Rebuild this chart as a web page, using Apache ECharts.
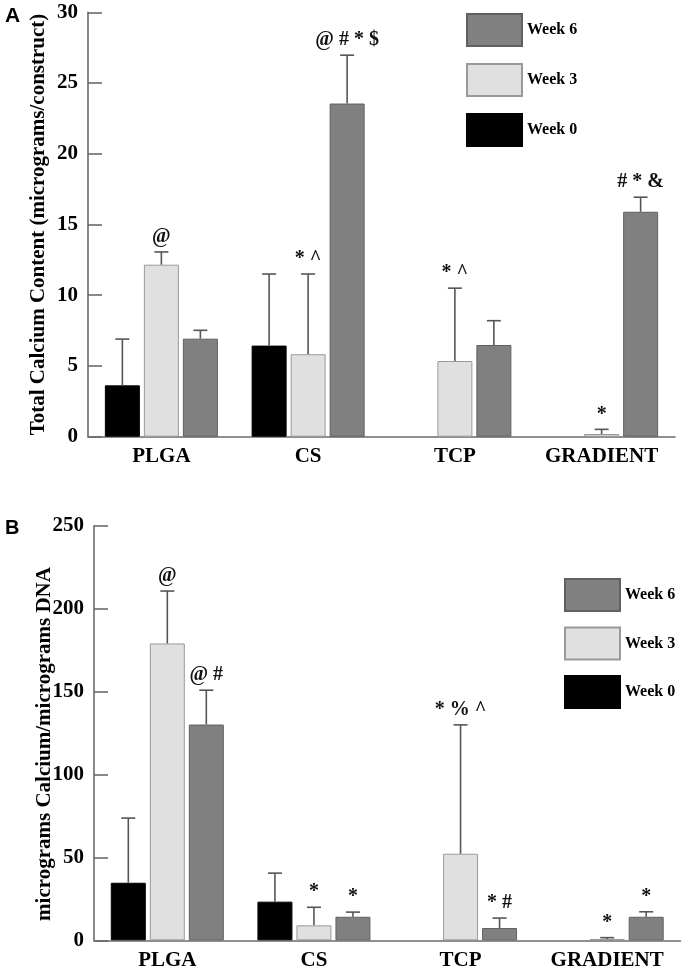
<!DOCTYPE html>
<html>
<head>
<meta charset="utf-8">
<script src="https://cdn.jsdelivr.net/npm/echarts@6/dist/echarts.min.js"></script>
<style>
  html, body { margin: 0; padding: 0; background: #fff; }
  #chart { width: 686px; height: 974px; }
</style>
</head>
<body>
<div id="chart"></div>
<script>
// ---------- DATA ----------
const categories = ['PLGA', 'CS', 'TCP', 'GRADIENT'];
const weekNames = ['Week 0', 'Week 3', 'Week 6'];
const legendOrder = ['Week 6', 'Week 3', 'Week 0'];

// Panel A: Total Calcium Content (micrograms/construct)
const aTicks = [0, 5, 10, 15, 20, 25, 30];
const aWeek0 = [3.63, 6.44, null, null];
const aWeek3 = [12.16, 5.83, 5.35, 0.19];
const aWeek6 = [6.93, 23.55, 6.48, 15.9];
const aWeek0Sd = [3.27, 5.06, null, null];
const aWeek3Sd = [0.9, 5.67, 5.15, 0.33];
const aWeek6Sd = [0.59, 3.42, 1.72, 1.03];
const aWeek0Marks = ['', '', '', ''];
const aWeek3Marks = ['@', '* ^', '* ^', '*'];
const aWeek6Marks = ['', '@ # * $', '', '# * &'];

// Panel B: micrograms Calcium/micrograms DNA
const bTicks = [0, 50, 100, 150, 200, 250];
const bWeek0 = [34.7, 23.3, null, null];
const bWeek3 = [179, 9.0, 52.2, 0.8];
const bWeek6 = [130.1, 14.2, 7.4, 14.2];
const bWeek0Sd = [39.0, 17.2, null, null];
const bWeek3Sd = [31.6, 10.9, 77.7, 0.8];
const bWeek6Sd = [20.7, 2.8, 6.0, 3.0];
const bWeek0Marks = ['', '', '', ''];
const bWeek3Marks = ['@', '*', '* % ^', '*'];
const bWeek6Marks = ['@ #', '*', '* #', '*'];

// ---------- STYLE ----------
const SERIF = "'Liberation Serif', 'Times New Roman', serif";
const SANS = "'Liberation Sans', Arial, sans-serif";
const BAR_W = 35;
const BAR_GAP = 4;
const AXIS_COLOR = '#6a6a6a';
const ERR_COLOR = '#555555';
const weekStyles = [
  { color: '#000000', borderColor: '#000000', borderWidth: 1 },
  { color: '#e0e0e0', borderColor: '#9a9a9a', borderWidth: 1 },
  { color: '#808080', borderColor: '#606060', borderWidth: 1 }
];

const chart = echarts.init(document.getElementById('chart'), null, { renderer: 'canvas' });

function makeBars(values, gridIdx) {
  return values.map((vals, w) => ({
    name: weekNames[w],
    type: 'bar',
    xAxisIndex: gridIdx,
    yAxisIndex: gridIdx,
    data: vals,
    barWidth: BAR_W,
    barGap: (BAR_GAP / BAR_W * 100).toFixed(2) + '%',
    itemStyle: weekStyles[w],
    emphasis: { disabled: true },
    z: 2
  }));
}

function makeErrors(values, sds, marks, gridIdx) {
  const items = [];
  const labels = [];
  values.forEach((vals, w) => {
    vals.forEach((v, c) => {
      if (v === null || v === undefined) return;
      items.push([c, w, v, sds[w][c]]);
      labels.push(marks[w][c]);
    });
  });
  return {
    type: 'custom',
    xAxisIndex: gridIdx,
    yAxisIndex: gridIdx,
    z: 5,
    silent: true,
    encode: { x: 0, y: 2 },
    data: items,
    renderItem: function (params, api) {
      const c = api.value(0), w = api.value(1), v = api.value(2), sd = api.value(3);
      const base = api.coord([c, v]);
      const top = api.coord([c, v + sd]);
      const x = base[0] + (w - 1) * (BAR_W + BAR_GAP);
      const lineStyle = { stroke: ERR_COLOR, lineWidth: 1.6 };
      const children = [
        { type: 'line', shape: { x1: x, y1: base[1], x2: x, y2: top[1] }, style: lineStyle },
        { type: 'line', shape: { x1: x - 7, y1: top[1], x2: x + 7, y2: top[1] }, style: lineStyle }
      ];
      const txt = labels[params.dataIndex];
      if (txt) {
        children.push({
          type: 'text',
          x: x, y: top[1] - 5,
          style: {
            text: txt, fill: '#111', font: 'bold 20px ' + SERIF,
            textAlign: 'center', textVerticalAlign: 'bottom'
          }
        });
      }
      return { type: 'group', children: children };
    }
  };
}

const commonX = {
  type: 'category',
  data: categories,
  axisLine: { lineStyle: { color: AXIS_COLOR, width: 1.6 } },
  axisTick: { show: false },
  axisLabel: { color: '#000', fontFamily: SERIF, fontWeight: 'bold', fontSize: 21, interval: 0 },
  splitLine: { show: false }
};

function makeY(ticks, name, gridIdx, namePad) {
  return {
    type: 'value',
    gridIndex: gridIdx,
    min: ticks[0],
    max: ticks[ticks.length - 1],
    interval: ticks[1] - ticks[0],
    name: name,
    nameLocation: 'middle',
    nameGap: 39,
    nameMoveOverlap: false,
    nameTextStyle: { color: '#000', fontFamily: SERIF, fontWeight: 'bold', fontSize: 21, padding: namePad },
    axisLine: { show: true, lineStyle: { color: AXIS_COLOR, width: 1.6 } },
    axisTick: { show: true, inside: true, length: 14, lineStyle: { color: AXIS_COLOR, width: 1.6 } },
    axisLabel: { color: '#000', fontFamily: SERIF, fontWeight: 'bold', fontSize: 21, margin: 10 },
    splitLine: { show: false }
  };
}

function makeLegend(left, top, gap) {
  return {
    data: legendOrder,
    orient: 'vertical',
    left: left, top: top,
    icon: 'rect',
    itemWidth: 55, itemHeight: 32, itemGap: gap,
    selectedMode: false,
    textStyle: { color: '#000', fontFamily: SERIF, fontWeight: 'bold', fontSize: 16 }
  };
}

const option = {
  animation: false,
  backgroundColor: '#ffffff',
  grid: [
    { left: 88, right: 11, top: 12.3, height: 424.4 },
    { left: 94, right: 5.5, top: 525.7, height: 414.6 }
  ],
  xAxis: [
    Object.assign({}, commonX, { gridIndex: 0, axisLabel: Object.assign({}, commonX.axisLabel, { margin: 9 }) }),
    Object.assign({}, commonX, { gridIndex: 1, axisLabel: Object.assign({}, commonX.axisLabel, { margin: 10 }) })
  ],
  yAxis: [
    makeY(aTicks, 'Total Calcium Content (micrograms/construct)', 0, [0, 0, 0, 0]),
    makeY(bTicks, 'micrograms Calcium/micrograms DNA', 1, [0, 22, 0, 0])
  ],
  legend: [makeLegend(461, 8, 16), makeLegend(559, 573, 14.5)],
  graphic: [
    { type: 'text', left: 5, top: 6, style: { text: 'A', font: 'bold 21px ' + SANS, fill: '#000' } },
    { type: 'text', left: 5, top: 518, style: { text: 'B', font: 'bold 20px ' + SANS, fill: '#000' } }
  ],
  series: [].concat(
    makeBars([aWeek0, aWeek3, aWeek6], 0),
    makeBars([bWeek0, bWeek3, bWeek6], 1),
    [
      makeErrors([aWeek0, aWeek3, aWeek6], [aWeek0Sd, aWeek3Sd, aWeek6Sd], [aWeek0Marks, aWeek3Marks, aWeek6Marks], 0),
      makeErrors([bWeek0, bWeek3, bWeek6], [bWeek0Sd, bWeek3Sd, bWeek6Sd], [bWeek0Marks, bWeek3Marks, bWeek6Marks], 1)
    ]
  )
};
chart.setOption(option);
</script>
</body>
</html>
